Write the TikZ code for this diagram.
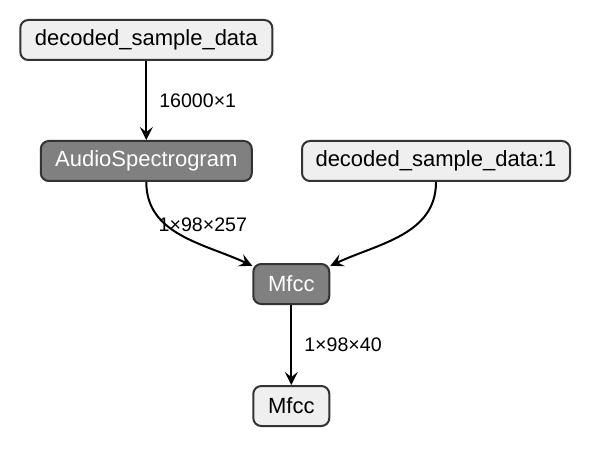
\documentclass[tikz,border=0pt]{standalone}
\usepackage{fontspec}
\setmainfont{Liberation Sans}
\usetikzlibrary{arrows.meta}
\definecolor{lightbox}{HTML}{EFEFEF}
\definecolor{darkbox}{HTML}{808080}
\definecolor{rim}{HTML}{333333}

\tikzstyle{layer} = [draw=rim, line width=1pt, rounded corners=4pt, minimum height=20pt, inner sep=0pt, font=\fontsize{11}{13}\selectfont]
\tikzstyle{data} = [layer, fill=lightbox, text=black]
\tikzstyle{op} = [layer, fill=darkbox, text=white]
\tikzstyle{flow} = [line width=1pt, -{Stealth[length=6.5pt,width=6.5pt,inset=2.5pt]}]
\tikzstyle{dims} = [font=\fontsize{9.8}{12}\selectfont, inner sep=0pt, text=black]

\begin{document}
\begin{tikzpicture}[x=0.5pt, y=0.5pt]
\useasboundingbox (0,0) rectangle (592,-448);
%begin nodes
\node[data, minimum width=126pt] (sample) at (146.3,-40) {decoded\_sample\_data};
\node[op, minimum width=105.5pt] (spectro) at (146.3,-161) {AudioSpectrogram};
\node[data, minimum width=134pt] (sample1) at (436,-161) {decoded\_sample\_data:1};
\node[op, minimum width=38pt] (mfcc) at (291.3,-284) {Mfcc};
\node[data, minimum width=38pt] (mfccout) at (291.3,-406) {Mfcc};
%end nodes
%begin edges
\draw[flow] (sample.south) -- node[dims, right=6pt] {16000×1} (spectro.north);
\draw[flow] (spectro.south) to[out=-90, in=155]
    node[dims, pos=0.36, right=-4pt] {1×98×257} (mfcc.155);
\draw[flow] (sample1.south) to[out=-90, in=25] (mfcc.25);
\draw[flow] (mfcc.south) -- node[dims, right=6pt] {1×98×40} (mfccout.north);
%end edges
\end{tikzpicture}
\end{document}
